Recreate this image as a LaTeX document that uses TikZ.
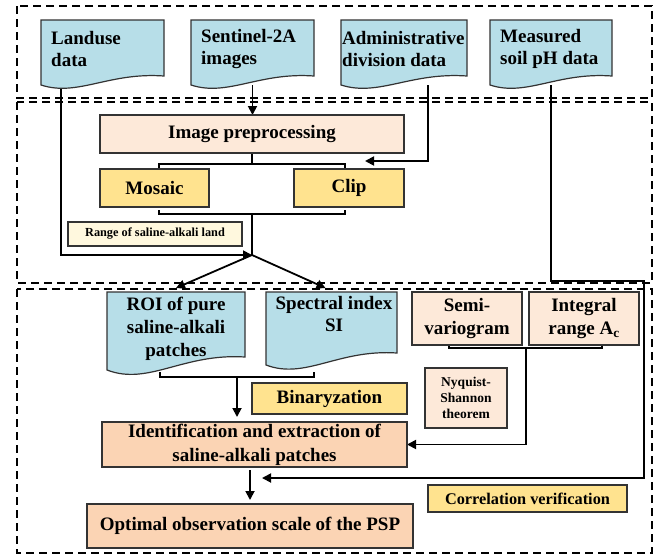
\documentclass[tikz,border=0pt]{standalone}
\usepackage{fontspec}
\setmainfont{Liberation Serif}
\usetikzlibrary{arrows.meta,calc,backgrounds}
\definecolor{docblue}{HTML}{B7DEE8}
\definecolor{peachL}{HTML}{FDE9D9}
\definecolor{peachD}{HTML}{FBD4B4}
\definecolor{yel}{HTML}{FFE38F}
\definecolor{cream}{HTML}{FFF8DE}
\definecolor{edge}{HTML}{333333}
\newcommand\docshape[2]{%
  \path[draw=edge, fill=docblue, line width=1.2pt]
    (#1.north west) -- (#1.north east) -- ([yshift=#2pt]#1.south east)
    .. controls ($(#1.south west)!0.55!(#1.south east)+(0,#2pt+4pt)$)
    and ($(#1.south west)!0.3!(#1.south east)+(0,-#2pt-3pt)$) .. (#1.south west) -- cycle;}
\begin{document}
\begin{tikzpicture}[x=1pt,y=-1pt,
  box/.style={draw=edge, line width=1.2pt, inner sep=0pt, outer sep=0pt,
    font=\fontsize{19}{23}\selectfont\bfseries, align=center},
  docnode/.style={inner sep=0pt, outer sep=0pt},
  doctxt/.style={inner sep=0pt, font=\fontsize{19}{22}\selectfont\bfseries, align=left, anchor=west},
  conn/.style={line width=1.8pt, black},
  arr/.style={conn, -{Triangle[length=9pt,width=9pt]}},
  frame/.style={line width=1.6pt, dash pattern=on 8pt off 5pt},
]
\useasboundingbox (0,0) rectangle (662,557);

% top documents
\node[docnode, minimum width=123pt, minimum height=65pt] (ld) at (102.5,52.5) {};
\docshape{ld}{9}
\node[doctxt] (ld-t) at (51,49) {Landuse\\data};
\node[docnode, minimum width=123pt, minimum height=65pt] (sd) at (252.5,52.5) {};
\docshape{sd}{9}
\node[doctxt] (sd-t) at (201,49) {Sentinel-2A\\images};
\node[docnode, minimum width=126pt, minimum height=65pt] (ad) at (404,52.5) {};
\docshape{ad}{9}
\node[doctxt] (ad-t) at (342,49) {Administrative\\division data};
\node[docnode, minimum width=122pt, minimum height=65pt] (md) at (551,52.5) {};
\docshape{md}{9}
\node[doctxt] (md-t) at (500,49) {Measured\\soil pH data};

% middle block
\node[box, fill=peachL, minimum width=304pt, minimum height=38pt] (ip) at (252,134) {Image preprocessing};
\node[box, fill=yel, minimum width=109pt, minimum height=38pt] (mos) at (154.5,188) {Mosaic};
\node[box, fill=yel, minimum width=110pt, minimum height=38pt] (clip) at (349,188) {Clip};
\node[box, fill=cream, minimum width=174pt, minimum height=24pt, font=\fontsize{12.3}{14}\selectfont\bfseries] (rng) at (155,234) {Range of saline-alkali land};

% lower documents
\node[docnode, minimum width=138pt, minimum height=78pt] (roi) at (176,331) {};
\docshape{roi}{13}
\node[inner sep=0pt, font=\fontsize{19}{23}\selectfont\bfseries, align=center] (roi-t) at (176,329) {ROI of pure\\saline-alkali\\patches};
\node[docnode, minimum width=131pt, minimum height=73pt] (spec) at (331.5,328.5) {};
\docshape{spec}{12}
\node[inner sep=0pt, font=\fontsize{19}{22}\selectfont\bfseries, align=center] (spec-t) at (334,314) {Spectral index\\SI};

\node[box, fill=peachL, minimum width=110pt, minimum height=53pt] (sv) at (467,318.5) {Semi-\\variogram};
\node[box, fill=peachL, minimum width=110pt, minimum height=53pt] (ir) at (584,318.5) {Integral\\range A\textsubscript{c}};
\node[box, fill=peachL, minimum width=82pt, minimum height=60pt, font=\fontsize{13.5}{16}\selectfont\bfseries] (ny) at (466,398) {Nyquist-\\Shannon\\theorem};
\node[box, fill=yel, minimum width=155pt, minimum height=31pt] (bz) at (329.5,398.5) {Binaryzation};
\node[box, fill=peachD, minimum width=305pt, minimum height=45pt, font=\fontsize{19}{24}\selectfont\bfseries] (id) at (254.5,444.5) {Identification and extraction of\\saline-alkali patches};
\node[box, fill=peachD, minimum width=326pt, minimum height=44pt] (op) at (250,526) {Optimal observation scale of the PSP};
\node[box, fill=yel, minimum width=199pt, minimum height=27pt, font=\fontsize{16.3}{19}\selectfont\bfseries] (cv) at (527.5,498.5) {Correlation verification};

% helper coordinates
\coordinate (j) at (252,255);
\coordinate (b2) at (252,214);
\coordinate (clipin) at ([xshift=16pt,yshift=8pt]clip.north);
\coordinate (m2) at (644,281);
\coordinate (m4) at (262,478);
\coordinate (rb1) at (160,372);
\coordinate (rb2) at (314,372);
\coordinate (rs) at (237,377);
\coordinate (ss) at (526,348);

\begin{pgfonlayer}{background}
  % frames
  \draw[frame] (17,6) rectangle (652,98);
  \draw[frame] (17,102) rectangle (652,283);
  \draw[frame] (17,289) rectangle (652,553);
  % connectors
  \draw[arr] ([xshift=20pt]ld.south west) |- (j);
  \draw[arr] (sd.south) -- (sd.south |- ip.north);
  \draw[arr] ([xshift=24pt]ad.south) |- (clipin);
  \draw[arr] (md.south) |- (m2) |- (m4);
  \draw[conn] (ip.south) -- ++(0,11);
  \draw[conn] ([xshift=4.5pt,yshift=1pt]mos.north) -- ++(0,-4) -| ([xshift=-4pt,yshift=1pt]clip.north);
  \draw[conn] ([xshift=4.5pt,yshift=-3pt]mos.south) -- ++(0,4) -| ([xshift=-4pt,yshift=-3pt]clip.south);
  \draw[conn] (b2) -- (j);
  \draw[arr] (j) -- ([yshift=4pt]roi.north);
  \draw[arr] (j) -- ([xshift=-6pt,yshift=4pt]spec.north);
  \draw[conn] (rb1) -- ++(0,5) -| (rb2);
  \draw[arr] (rs) -- ([xshift=-17.5pt,yshift=5pt]id.north);
  \draw[conn] ([xshift=-18pt]sv.south) -- ++(0,3) -| ([xshift=18pt]ir.south);
  \draw[arr] (ss) |- (id.east);
  \draw[arr] ([xshift=-4.5pt,yshift=-3pt]id.south) -- ([yshift=4pt]op.north);
\end{pgfonlayer}
\end{tikzpicture}
\end{document}
